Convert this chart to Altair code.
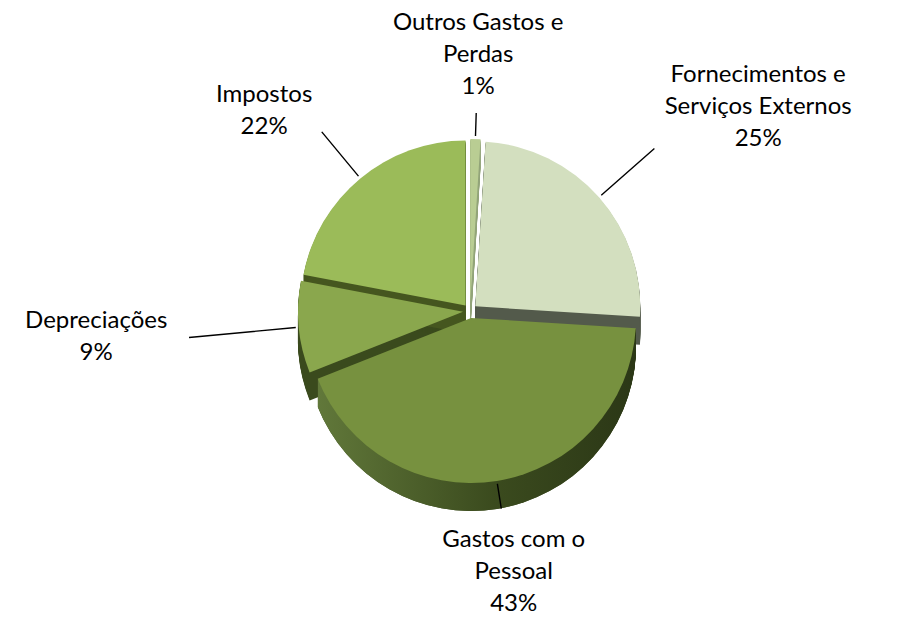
import altair as alt
import pandas as pd

# ---- data ----
categories = ["Outros Gastos e Perdas", "Fornecimentos e Serviços Externos",
              "Gastos com o Pessoal", "Depreciações", "Impostos"]
values = [1, 25, 43, 9, 22]
label_lines = ["Outros Gastos e\nPerdas", "Fornecimentos e\nServiços Externos",
               "Gastos com o\nPessoal", "Depreciações", "Impostos"]

top_colors = ["#B9CD93", "#D3DFBF", "#77913F", "#8AA74D", "#9BBB59"]
side_colors = ["#92A479", "#535A4B", "#3F4F22", "#3A4A1D", "#45561F"]

df = pd.DataFrame({
    "cat": categories,
    "value": values,
    "order": list(range(len(values))),
    "label": [f"{l}\n{v}%" for l, v in zip(label_lines, values)],
})

# ---- layout constants (style) ----
CX, CY, R, E, DEPTH, GAP, XS = 470, 311, 165, 7, 28, 34, 100
FONT = "Lato"
CHAR_HALF, LINE_HALF = 5.6, 16

theta_scale = alt.Scale(domain=[0, 100])

base = alt.Chart(df).transform_window(
    cum="sum(value)", sort=[alt.SortField("order")], frame=[None, 0]
).transform_calculate(
    start="datum.cum - datum.value",
    mid="datum.cum - datum.value / 2",
    parts="split(datum.label, '\\n')",
).transform_calculate(
    ang="datum.mid / 100 * 2 * PI",
    nlines="length(datum.parts)",
    nchars="max(length(datum.parts[0]), length(datum.parts[1] || ''), length(datum.parts[2] || ''))",
).transform_calculate(
    px=f"{CX} + {E} * sin(datum.ang)",
    py=f"{CY} - {E} * cos(datum.ang)",
    lr=f"{R} + {GAP} + {CHAR_HALF} * datum.nchars * abs(sin(datum.ang)) + {LINE_HALF} * datum.nlines * abs(cos(datum.ang))",
    lo=f"{R} + {GAP} - 8 + {XS} * 0.85 * sin(datum.ang) * sin(datum.ang)",
    li=f"{R} + 3",
).transform_calculate(
    lx=f"datum.px + (datum.lr + {XS} * abs(sin(datum.ang))) * sin(datum.ang)",
    ly=f"datum.py - datum.lr * cos(datum.ang) - (datum.nlines - 1) * {LINE_HALF}",
)

xenc = alt.X("px:Q", scale=None, axis=None)
yenc = alt.Y("py:Q", scale=None, axis=None)
theta_enc = alt.Theta("start:Q", scale=theta_scale, stack=None)
theta2_enc = alt.Theta2("cum:Q")

walls_base = base.transform_calculate(
    d=f"sequence(1, {DEPTH + 1}, 1)"
).transform_flatten(["d"]).transform_calculate(pyd="datum.py + datum.d")

walls = walls_base.mark_arc(radius=R).encode(
    x=xenc,
    y=alt.Y("pyd:Q", scale=None, axis=None),
    theta=theta_enc,
    theta2=theta2_enc,
    color=alt.Color("cat:N", scale=alt.Scale(domain=categories, range=side_colors), legend=None),
)

gastos_wall = walls_base.transform_filter(
    alt.datum.cat == "Gastos com o Pessoal"
).mark_arc(
    radius=R,
    fill=alt.Gradient(
        gradient="linear", x1=0, x2=1, y1=0, y2=0,
        stops=[alt.GradientStop(offset=0, color="#61783A"),
               alt.GradientStop(offset=0.55, color="#3B4B1E"),
               alt.GradientStop(offset=1, color="#2B3716")],
    ),
).encode(
    x=xenc,
    y=alt.Y("pyd:Q", scale=None, axis=None),
    theta=theta_enc,
    theta2=theta2_enc,
)

tops = base.mark_arc(radius=R).encode(
    x=xenc, y=yenc,
    theta=theta_enc, theta2=theta2_enc,
    color=alt.Color("cat:N", scale=alt.Scale(domain=categories, range=top_colors), legend=None),
)

leaders = base.mark_arc(stroke="black", strokeWidth=1.4, fill="black").encode(
    x=xenc, y=yenc,
    theta=alt.Theta("mid:Q", scale=theta_scale, stack=None),
    theta2=alt.Theta2("mid:Q"),
    radius=alt.Radius("lo:Q", scale=None),
    radius2=alt.Radius2("li:Q"),
)

labels = base.mark_text(
    font=FONT, fontSize=24, lineHeight=32, lineBreak="\n",
    align="center", baseline="middle", color="black",
).encode(
    x=alt.X("lx:Q", scale=None, axis=None),
    y=alt.Y("ly:Q", scale=None, axis=None),
    text="label:N",
)

chart = alt.layer(walls, gastos_wall, tops, leaders, labels).resolve_scale(
    color="independent"
).properties(
    width=918, height=637, padding=0,
    autosize=alt.AutoSizeParams(type="none"),
    background="white",
).configure_view(stroke=None)

chart.save("out.html", embed_options={"renderer": "svg", "actions": False})
